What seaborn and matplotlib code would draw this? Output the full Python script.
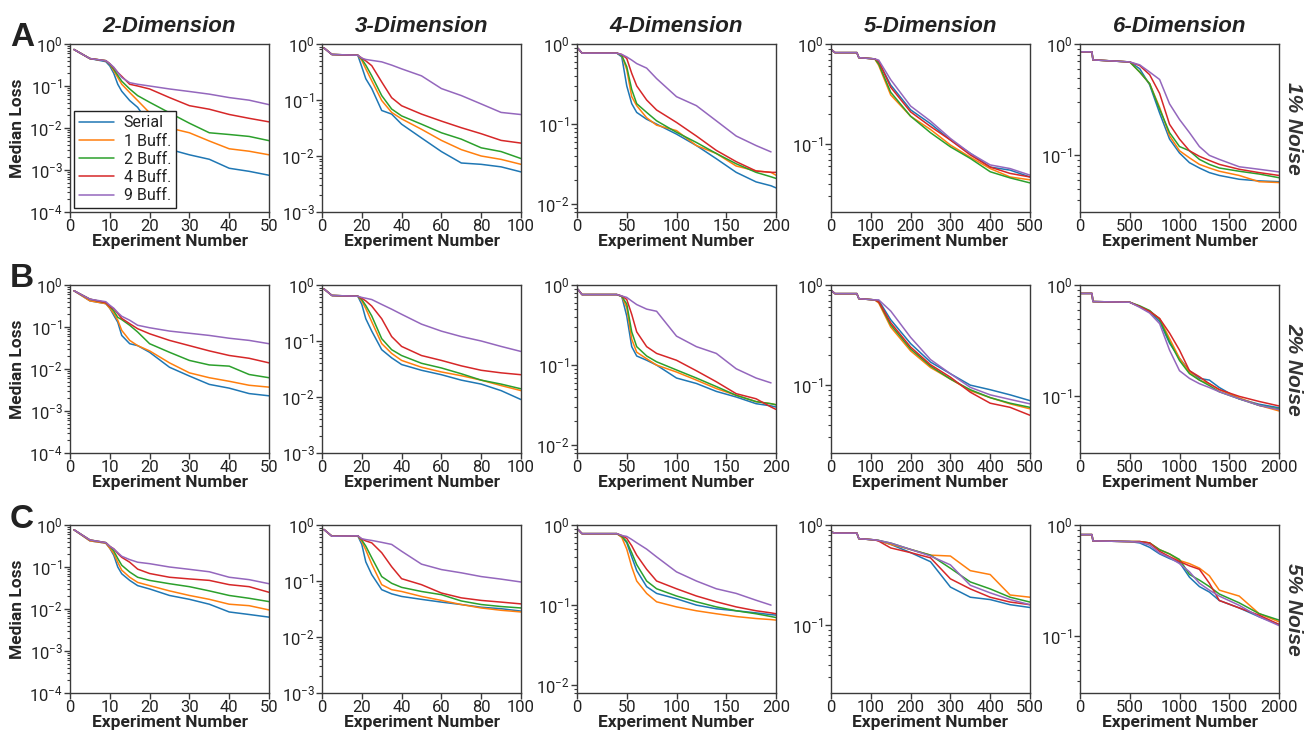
import numpy as np
import pandas as pd
import matplotlib
matplotlib.use("Agg")
import matplotlib.pyplot as plt
import seaborn as sns
from matplotlib.ticker import LogLocator, NullFormatter

strategies = ["Serial", "1 Buff.", "2 Buff.", "4 Buff.", "9 Buff."]
dimensions = ["2-Dimension", "3-Dimension", "4-Dimension", "5-Dimension", "6-Dimension"]
noise_levels = ["1% Noise", "2% Noise", "5% Noise"]
panel_letters = ["A", "B", "C"]

exp_2d = [1, 5, 9, 10, 11, 12, 13, 15, 17, 20, 25, 30, 35, 40, 45, 50]
exp_3d = [1, 5, 18, 20, 22, 25, 30, 35, 40, 50, 60, 70, 80, 90, 100]
exp_4d = [1, 5, 40, 45, 50, 55, 60, 70, 80, 100, 120, 140, 160, 180, 195, 200]
exp_5d = [1, 10, 65, 70, 110, 120, 150, 200, 250, 300, 350, 400, 450, 500]
exp_6d = [1, 120, 130, 500, 600, 700, 800, 900, 1000, 1100, 1200, 1300, 1400, 1600, 1800, 2000]

nan = np.nan

# ---- 1% noise ----
loss_n1_d2 = {
    "Serial":  [0.74, 0.45, 0.38, 0.30, 0.20, 0.11, 0.075, 0.045, 0.031, 0.012, 0.0031, 0.0023, 0.0018, 0.0011, 0.00093, 0.00075],
    "1 Buff.": [0.74, 0.45, 0.40, 0.33, 0.23, 0.16, 0.11, 0.07, 0.045, 0.023, 0.010, 0.0077, 0.0049, 0.0032, 0.0028, 0.0023],
    "2 Buff.": [0.74, 0.45, 0.40, 0.33, 0.25, 0.18, 0.13, 0.085, 0.059, 0.041, 0.023, 0.013, 0.0077, 0.007, 0.0063, 0.005],
    "4 Buff.": [0.74, 0.45, 0.40, 0.34, 0.27, 0.21, 0.17, 0.11, 0.10, 0.085, 0.053, 0.034, 0.028, 0.021, 0.017, 0.014],
    "9 Buff.": [0.74, 0.45, 0.40, 0.34, 0.28, 0.21, 0.16, 0.12, 0.11, 0.10, 0.085, 0.074, 0.064, 0.053, 0.046, 0.036],
}
loss_n1_d3 = {
    "Serial":  [0.85, 0.65, 0.63, 0.39, 0.24, 0.16, 0.065, 0.056, 0.037, 0.021, 0.012, 0.0075, 0.0071, 0.0064, 0.0052],
    "1 Buff.": [0.85, 0.65, 0.63, 0.51, 0.36, 0.22, 0.098, 0.06, 0.046, 0.030, 0.019, 0.013, 0.010, 0.0087, 0.0071],
    "2 Buff.": [0.85, 0.65, 0.63, 0.54, 0.42, 0.27, 0.12, 0.069, 0.052, 0.037, 0.026, 0.020, 0.014, 0.012, 0.009],
    "4 Buff.": [0.85, 0.65, 0.63, 0.56, 0.50, 0.41, 0.21, 0.11, 0.079, 0.056, 0.042, 0.032, 0.025, 0.019, 0.017],
    "9 Buff.": [0.85, 0.65, 0.63, 0.56, 0.53, 0.51, 0.48, 0.42, 0.36, 0.27, 0.16, 0.12, 0.085, 0.06, 0.055],
}
loss_n1_d4 = {
    "Serial":  [0.88, 0.77, 0.77, 0.69, 0.30, 0.18, 0.14, 0.115, 0.10, 0.075, 0.054, 0.037, 0.025, 0.019, 0.017, 0.016],
    "1 Buff.": [0.88, 0.77, 0.77, 0.72, 0.48, 0.22, 0.17, 0.12, 0.097, 0.083, 0.054, 0.043, 0.030, 0.026, 0.025, 0.023],
    "2 Buff.": [0.88, 0.77, 0.77, 0.72, 0.52, 0.27, 0.18, 0.14, 0.11, 0.079, 0.059, 0.043, 0.032, 0.025, 0.022, 0.021],
    "4 Buff.": [0.88, 0.77, 0.77, 0.74, 0.66, 0.43, 0.30, 0.20, 0.15, 0.105, 0.071, 0.047, 0.034, 0.026, 0.025, 0.025],
    "9 Buff.": [0.88, 0.77, 0.77, 0.74, 0.69, 0.63, 0.57, 0.50, 0.37, 0.22, 0.17, 0.11, 0.071, 0.054, 0.045, nan],
}
loss_n1_d5 = {
    "Serial":  [0.88, 0.82, 0.82, 0.73, 0.71, 0.66, 0.39, 0.22, 0.16, 0.11, 0.081, 0.059, 0.055, 0.047],
    "1 Buff.": [0.88, 0.82, 0.82, 0.73, 0.71, 0.61, 0.31, 0.19, 0.14, 0.098, 0.074, 0.057, 0.047, 0.044],
    "2 Buff.": [0.88, 0.82, 0.82, 0.73, 0.71, 0.63, 0.33, 0.19, 0.13, 0.094, 0.072, 0.053, 0.046, 0.041],
    "4 Buff.": [0.88, 0.82, 0.82, 0.73, 0.71, 0.67, 0.37, 0.21, 0.15, 0.11, 0.078, 0.059, 0.051, 0.047],
    "9 Buff.": [0.88, 0.82, 0.82, 0.73, 0.71, 0.69, 0.44, 0.24, 0.17, 0.114, 0.081, 0.062, 0.057, 0.049],
}
loss_n1_d6 = {
    "Serial":  [0.85, 0.85, 0.72, 0.69, 0.60, 0.43, 0.24, 0.14, 0.105, 0.086, 0.077, 0.07, 0.066, 0.061, 0.059, 0.058],
    "1 Buff.": [0.85, 0.85, 0.72, 0.69, 0.56, 0.44, 0.27, 0.15, 0.11, 0.095, 0.083, 0.077, 0.072, 0.066, 0.058, 0.057],
    "2 Buff.": [0.85, 0.85, 0.72, 0.69, 0.56, 0.44, 0.26, 0.16, 0.12, 0.11, 0.092, 0.083, 0.077, 0.072, 0.068, 0.063],
    "4 Buff.": [0.85, 0.85, 0.72, 0.69, 0.64, 0.53, 0.36, 0.19, 0.14, 0.11, 0.098, 0.09, 0.083, 0.075, 0.070, 0.066],
    "9 Buff.": [0.85, 0.85, 0.72, 0.69, 0.65, 0.56, 0.48, 0.29, 0.21, 0.16, 0.12, 0.10, 0.092, 0.079, 0.075, 0.071],
}

# ---- 2% noise ----
loss_n2_d2 = {
    "Serial":  [0.73, 0.42, 0.36, 0.28, 0.19, 0.13, 0.063, 0.04, 0.036, 0.025, 0.011, 0.0068, 0.0043, 0.0035, 0.0026, 0.0023],
    "1 Buff.": [0.73, 0.42, 0.36, 0.28, 0.21, 0.145, 0.083, 0.048, 0.036, 0.027, 0.014, 0.0081, 0.0062, 0.0051, 0.0041, 0.0037],
    "2 Buff.": [0.73, 0.46, 0.38, 0.31, 0.24, 0.17, 0.15, 0.11, 0.076, 0.04, 0.025, 0.016, 0.0125, 0.0117, 0.0074, 0.0062],
    "4 Buff.": [0.73, 0.46, 0.38, 0.31, 0.27, 0.21, 0.16, 0.12, 0.091, 0.069, 0.048, 0.036, 0.027, 0.021, 0.018, 0.014],
    "9 Buff.": [0.73, 0.46, 0.40, 0.33, 0.28, 0.22, 0.18, 0.145, 0.11, 0.096, 0.080, 0.071, 0.063, 0.054, 0.048, 0.040],
}
loss_n2_d3 = {
    "Serial":  [0.85, 0.65, 0.63, 0.45, 0.25, 0.15, 0.07, 0.05, 0.038, 0.03, 0.025, 0.02, 0.017, 0.013, 0.009],
    "1 Buff.": [0.85, 0.65, 0.63, 0.52, 0.38, 0.22, 0.09, 0.06, 0.045, 0.034, 0.028, 0.024, 0.02, 0.016, 0.013],
    "2 Buff.": [0.85, 0.65, 0.63, 0.55, 0.43, 0.28, 0.11, 0.07, 0.055, 0.04, 0.033, 0.026, 0.02, 0.017, 0.014],
    "4 Buff.": [0.85, 0.65, 0.63, 0.58, 0.52, 0.42, 0.25, 0.12, 0.08, 0.055, 0.045, 0.036, 0.03, 0.027, 0.025],
    "9 Buff.": [0.85, 0.65, 0.63, 0.60, 0.58, 0.55, 0.45, 0.37, 0.30, 0.20, 0.15, 0.12, 0.10, 0.08, 0.065],
}
loss_n2_d4 = {
    "Serial":  [0.88, 0.76, 0.76, 0.72, 0.41, 0.17, 0.13, 0.115, 0.10, 0.069, 0.059, 0.047, 0.040, 0.033, 0.031, 0.030],
    "1 Buff.": [0.88, 0.76, 0.76, 0.72, 0.52, 0.21, 0.145, 0.12, 0.10, 0.082, 0.065, 0.051, 0.042, 0.035, 0.033, 0.032],
    "2 Buff.": [0.88, 0.76, 0.76, 0.72, 0.58, 0.26, 0.17, 0.13, 0.11, 0.087, 0.069, 0.054, 0.042, 0.035, 0.033, 0.032],
    "4 Buff.": [0.88, 0.76, 0.76, 0.73, 0.66, 0.43, 0.26, 0.17, 0.14, 0.115, 0.085, 0.062, 0.044, 0.038, 0.030, 0.028],
    "9 Buff.": [0.88, 0.76, 0.76, 0.73, 0.70, 0.63, 0.57, 0.50, 0.47, 0.23, 0.17, 0.14, 0.09, 0.069, 0.06, nan],
}
loss_n2_d5 = {
    "Serial":  [0.88, 0.82, 0.82, 0.73, 0.71, 0.70, 0.45, 0.26, 0.17, 0.13, 0.10, 0.09, 0.08, 0.07],
    "1 Buff.": [0.88, 0.82, 0.82, 0.73, 0.71, 0.66, 0.38, 0.22, 0.15, 0.115, 0.088, 0.075, 0.065, 0.058],
    "2 Buff.": [0.88, 0.82, 0.82, 0.73, 0.71, 0.68, 0.40, 0.23, 0.155, 0.115, 0.09, 0.075, 0.066, 0.06],
    "4 Buff.": [0.88, 0.82, 0.82, 0.73, 0.71, 0.68, 0.42, 0.24, 0.16, 0.12, 0.085, 0.066, 0.06, 0.05],
    "9 Buff.": [0.88, 0.82, 0.82, 0.73, 0.71, 0.71, 0.55, 0.30, 0.18, 0.13, 0.095, 0.08, 0.072, 0.065],
}
loss_n2_d6 = {
    "Serial":  [0.84, 0.84, 0.71, 0.70, 0.64, 0.57, 0.47, 0.30, 0.22, 0.17, 0.145, 0.14, 0.12, 0.095, 0.085, 0.079],
    "1 Buff.": [0.84, 0.84, 0.71, 0.70, 0.64, 0.58, 0.50, 0.33, 0.22, 0.165, 0.14, 0.13, 0.115, 0.097, 0.083, 0.074],
    "2 Buff.": [0.84, 0.84, 0.71, 0.70, 0.65, 0.59, 0.49, 0.31, 0.21, 0.16, 0.14, 0.125, 0.11, 0.095, 0.083, 0.077],
    "4 Buff.": [0.84, 0.84, 0.71, 0.70, 0.64, 0.58, 0.50, 0.37, 0.26, 0.17, 0.15, 0.13, 0.115, 0.10, 0.09, 0.082],
    "9 Buff.": [0.84, 0.84, 0.71, 0.70, 0.63, 0.56, 0.45, 0.26, 0.17, 0.145, 0.13, 0.12, 0.11, 0.095, 0.083, 0.076],
}

# ---- 5% noise ----
loss_n5_d2 = {
    "Serial":  [0.77, 0.42, 0.37, 0.28, 0.19, 0.10, 0.069, 0.048, 0.036, 0.030, 0.021, 0.017, 0.013, 0.0085, 0.0074, 0.0064],
    "1 Buff.": [0.77, 0.42, 0.37, 0.28, 0.21, 0.13, 0.084, 0.057, 0.043, 0.036, 0.027, 0.021, 0.017, 0.013, 0.012, 0.0095],
    "2 Buff.": [0.77, 0.44, 0.38, 0.31, 0.24, 0.16, 0.11, 0.076, 0.057, 0.048, 0.040, 0.034, 0.027, 0.021, 0.018, 0.015],
    "4 Buff.": [0.77, 0.44, 0.38, 0.31, 0.27, 0.21, 0.17, 0.13, 0.089, 0.070, 0.057, 0.052, 0.048, 0.038, 0.034, 0.025],
    "9 Buff.": [0.77, 0.44, 0.38, 0.31, 0.27, 0.22, 0.18, 0.15, 0.13, 0.12, 0.10, 0.088, 0.077, 0.057, 0.050, 0.040],
}
loss_n5_d3 = {
    "Serial":  [0.83, 0.63, 0.64, 0.45, 0.22, 0.13, 0.070, 0.059, 0.053, 0.047, 0.042, 0.038, 0.034, 0.032, 0.029],
    "1 Buff.": [0.83, 0.63, 0.64, 0.51, 0.36, 0.20, 0.086, 0.070, 0.065, 0.053, 0.045, 0.038, 0.033, 0.030, 0.028],
    "2 Buff.": [0.83, 0.63, 0.64, 0.54, 0.42, 0.26, 0.12, 0.091, 0.077, 0.065, 0.057, 0.044, 0.038, 0.035, 0.033],
    "4 Buff.": [0.83, 0.63, 0.64, 0.56, 0.52, 0.48, 0.32, 0.18, 0.11, 0.086, 0.061, 0.050, 0.045, 0.042, 0.039],
    "9 Buff.": [0.83, 0.63, 0.64, 0.57, 0.55, 0.53, 0.49, 0.45, 0.34, 0.20, 0.16, 0.14, 0.12, 0.108, 0.096],
}
loss_n5_d4 = {
    "Serial":  [0.88, 0.78, 0.78, 0.72, 0.60, 0.40, 0.27, 0.17, 0.14, 0.12, 0.10, 0.09, 0.085, 0.08, 0.076, 0.075],
    "1 Buff.": [0.88, 0.78, 0.78, 0.70, 0.50, 0.30, 0.20, 0.14, 0.11, 0.095, 0.085, 0.078, 0.072, 0.068, 0.066, 0.065],
    "2 Buff.": [0.88, 0.78, 0.78, 0.72, 0.62, 0.45, 0.32, 0.20, 0.16, 0.13, 0.11, 0.095, 0.085, 0.078, 0.072, 0.07],
    "4 Buff.": [0.88, 0.78, 0.78, 0.74, 0.68, 0.55, 0.42, 0.28, 0.20, 0.16, 0.13, 0.11, 0.095, 0.085, 0.08, 0.078],
    "9 Buff.": [0.88, 0.78, 0.78, 0.74, 0.72, 0.66, 0.60, 0.50, 0.40, 0.26, 0.20, 0.16, 0.14, 0.115, 0.10, nan],
}
loss_n5_d5 = {
    "Serial":  [0.85, 0.83, 0.83, 0.73, 0.71, 0.70, 0.64, 0.53, 0.43, 0.24, 0.19, 0.18, 0.16, 0.15],
    "1 Buff.": [0.85, 0.83, 0.83, 0.73, 0.71, 0.70, 0.64, 0.57, 0.50, 0.49, 0.35, 0.32, 0.20, 0.19],
    "2 Buff.": [0.85, 0.83, 0.83, 0.73, 0.71, 0.70, 0.66, 0.57, 0.50, 0.37, 0.27, 0.23, 0.19, 0.17],
    "4 Buff.": [0.85, 0.83, 0.83, 0.73, 0.71, 0.69, 0.59, 0.53, 0.47, 0.29, 0.23, 0.19, 0.17, 0.16],
    "9 Buff.": [0.85, 0.83, 0.83, 0.73, 0.71, 0.70, 0.66, 0.57, 0.49, 0.40, 0.25, 0.21, 0.18, 0.16],
}
loss_n5_d6 = {
    "Serial":  [0.82, 0.82, 0.72, 0.71, 0.69, 0.63, 0.55, 0.50, 0.46, 0.34, 0.28, 0.25, 0.21, 0.18, 0.15, 0.128],
    "1 Buff.": [0.82, 0.82, 0.72, 0.71, 0.71, 0.69, 0.60, 0.55, 0.48, 0.45, 0.41, 0.35, 0.26, 0.23, 0.16, 0.135],
    "2 Buff.": [0.82, 0.82, 0.72, 0.71, 0.71, 0.69, 0.60, 0.55, 0.49, 0.36, 0.32, 0.28, 0.24, 0.20, 0.16, 0.14],
    "4 Buff.": [0.82, 0.82, 0.72, 0.71, 0.71, 0.69, 0.58, 0.52, 0.47, 0.43, 0.40, 0.30, 0.21, 0.18, 0.155, 0.128],
    "9 Buff.": [0.82, 0.82, 0.72, 0.71, 0.70, 0.66, 0.56, 0.51, 0.45, 0.38, 0.30, 0.26, 0.23, 0.19, 0.15, 0.125],
}

exp_grids = [exp_2d, exp_3d, exp_4d, exp_5d, exp_6d]
losses = [
    [loss_n1_d2, loss_n1_d3, loss_n1_d4, loss_n1_d5, loss_n1_d6],
    [loss_n2_d2, loss_n2_d3, loss_n2_d4, loss_n2_d5, loss_n2_d6],
    [loss_n5_d2, loss_n5_d3, loss_n5_d4, loss_n5_d5, loss_n5_d6],
]
x_max = [50, 100, 200, 500, 2000]
x_step = [10, 20, 50, 100, 500]
y_min = [1e-4, 1e-3, 8e-3, 2.1e-2, 3.1e-2]

sns.set_style("ticks")
plt.rcParams["font.family"] = ["Roboto", "DejaVu Sans"]
plt.rcParams["mathtext.default"] = "regular"
plt.rcParams["axes.edgecolor"] = "#3a3a3a"
plt.rcParams["axes.linewidth"] = 1.0
plt.rcParams["text.color"] = "#222222"
plt.rcParams["xtick.color"] = "#3a3a3a"
plt.rcParams["ytick.color"] = "#3a3a3a"
plt.rcParams["xtick.labelcolor"] = "#222222"
plt.rcParams["ytick.labelcolor"] = "#222222"

colors = sns.color_palette("tab10", 5)

fig = plt.figure(figsize=(13.14, 7.32), dpi=100)
W, H = 1314, 732
col_left = [70, 322, 577, 831, 1080]
row_top = [44, 285, 525]
ax_w, ax_h = 199, 168

for r in range(3):
    for c in range(5):
        ax = fig.add_axes([col_left[c] / W, 1 - (row_top[r] + ax_h) / H, ax_w / W, ax_h / H])
        rows = []
        for s in strategies:
            for xi, yi in zip(exp_grids[c], losses[r][c][s]):
                rows.append((xi, yi, s))
        df = pd.DataFrame(rows, columns=["Experiment", "Loss", "Strategy"]).dropna()
        sns.lineplot(data=df, x="Experiment", y="Loss", hue="Strategy",
                     hue_order=strategies, palette=colors, estimator=None,
                     errorbar=None, linewidth=1.1, ax=ax, legend=(r == 0 and c == 0))
        ax.set_yscale("log")
        ax.set_ylim(y_min[c], 1)
        ax.set_xlim(0, x_max[c])
        ax.set_xticks(np.arange(0, x_max[c] + 1, x_step[c]))
        ax.yaxis.set_major_locator(LogLocator(base=10, numticks=10))
        ax.yaxis.set_minor_locator(LogLocator(base=10, subs=np.arange(2, 10), numticks=20))
        ax.yaxis.set_minor_formatter(NullFormatter())
        ax.tick_params(axis="both", which="major", labelsize=12, length=4, width=1, pad=1)
        ax.tick_params(axis="y", which="minor", length=2, width=0.8)
        ax.set_xlabel("Experiment Number", fontsize=12.5, fontweight="bold", labelpad=0)
        if c == 0:
            ax.set_ylabel("Median Loss", fontsize=12.5, fontweight="bold", labelpad=3)
        else:
            ax.set_ylabel("")
        if r == 0:
            ax.set_title(dimensions[c], fontsize=16, fontweight="bold", style="italic",
                         family=["Liberation Sans", "DejaVu Sans"], pad=9)
        if r == 0 and c == 0:
            handles, labels = ax.get_legend_handles_labels()
            ax.legend(handles, labels, loc="lower left", fontsize=11.5, frameon=True,
                      fancybox=False, edgecolor="#222222", framealpha=1,
                      borderpad=0.3, labelspacing=0.2, handlelength=2.2,
                      handletextpad=0.6, borderaxespad=0.25)

    fig.text(1294 / W, 1 - (row_top[r] + ax_h / 2) / H, noise_levels[r], rotation=-90,
             ha="center", va="center", fontsize=15, fontweight="bold", style="italic",
             family=["Liberation Sans", "DejaVu Sans"], color="#333333")
    fig.text(10 / W, 1 - (row_top[r] - 6) / H, panel_letters[r], ha="left", va="center",
             fontsize=24, fontweight="bold", family=["Liberation Sans", "DejaVu Sans"],
             color="#222222")

fig.savefig("out.png", dpi=100, facecolor="white")
